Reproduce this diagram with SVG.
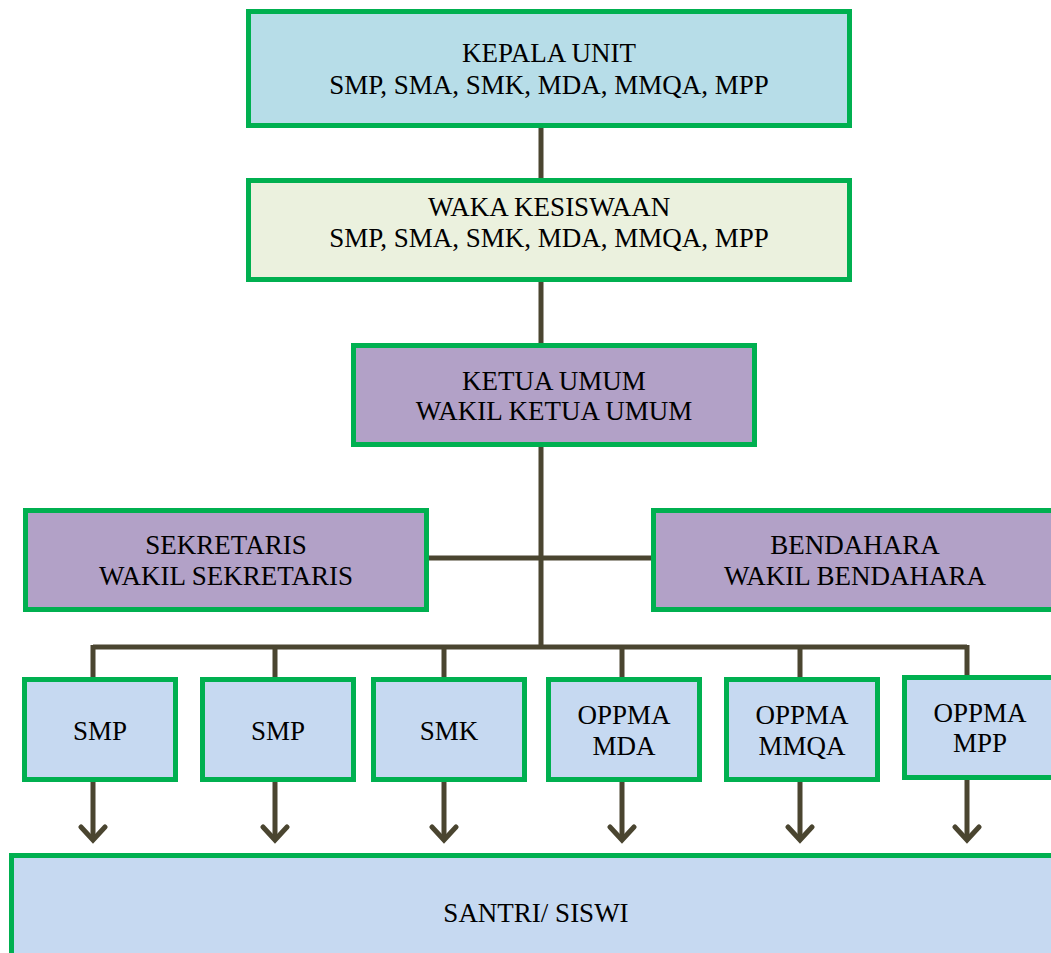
<svg xmlns="http://www.w3.org/2000/svg" width="1051" height="953" viewBox="0 0 1051 953">
<defs>
<style>
.box{stroke:#00B050;stroke-width:5}
.c1{fill:#B7DDE8}
.c2{fill:#EBF1DE}
.c3{fill:#B2A1C7}
.c4{fill:#C6D9F1}
text{font-family:"Liberation Serif","Times New Roman",serif;font-size:27px;fill:#000;text-anchor:middle}
.ln{stroke:#4A4530;stroke-width:5;fill:none}
.ah{stroke:#4A4530;stroke-width:5;fill:none;stroke-linecap:round;stroke-linejoin:miter}
</style>
</defs>
<rect width="1051" height="953" fill="#fff"/>
<g id="connectors">
<path class="ln" d="M541 128V178M541 281V343M541 447V647M429 558H651M93 647H967M93 645V680M275 645V680M444 645V680M622 645V680M800 645V680M967 645V677"/>
<path class="ln" d="M93 782V840M275 782V840M444 782V840M622 782V840M800 782V840M967 780V840"/>
<path class="ah" d="M81 827L93 840L105 827M263 827L275 840L287 827M432 827L444 840L456 827M610 827L622 840L634 827M788 827L800 840L812 827M955 827L967 840L979 827"/>
</g>
<g id="kepala"><rect class="box c1" x="248.5" y="11.5" width="601" height="114"/><text x="549" y="62">KEPALA UNIT</text><text x="549" y="94">SMP, SMA, SMK, MDA, MMQA, MPP</text></g>
<g id="waka"><rect class="box c2" x="248.5" y="180.5" width="601" height="99"/><text x="549" y="216">WAKA KESISWAAN</text><text x="549" y="247">SMP, SMA, SMK, MDA, MMQA, MPP</text></g>
<g id="ketua"><rect class="box c3" x="353.5" y="345.5" width="401" height="99"/><text x="554" y="390">KETUA UMUM</text><text x="554" y="420">WAKIL KETUA UMUM</text></g>
<g id="sekretaris"><rect class="box c3" x="25.5" y="510.5" width="401" height="99"/><text x="226" y="554">SEKRETARIS</text><text x="226" y="585">WAKIL SEKRETARIS</text></g>
<g id="bendahara"><rect class="box c3" x="653.5" y="510.5" width="401" height="99"/><text x="855" y="554">BENDAHARA</text><text x="855" y="585">WAKIL BENDAHARA</text></g>
<g id="smp1"><rect class="box c4" x="24.5" y="679.5" width="151" height="100"/><text x="100" y="740">SMP</text></g>
<g id="smp2"><rect class="box c4" x="202.5" y="679.5" width="151" height="100"/><text x="278" y="740">SMP</text></g>
<g id="smk"><rect class="box c4" x="373.5" y="679.5" width="151" height="100"/><text x="449" y="740">SMK</text></g>
<g id="oppma-mda"><rect class="box c4" x="548.5" y="679.5" width="151" height="100"/><text x="624" y="724">OPPMA</text><text x="624" y="755">MDA</text></g>
<g id="oppma-mmqa"><rect class="box c4" x="726.5" y="679.5" width="151" height="100"/><text x="802" y="724">OPPMA</text><text x="802" y="755">MMQA</text></g>
<g id="oppma-mpp"><rect class="box c4" x="904.5" y="677.5" width="152" height="100"/><text x="980" y="722">OPPMA</text><text x="980" y="752">MPP</text></g>
<g id="santri"><rect class="box c4" x="11.5" y="855.5" width="1050" height="110"/><text x="536" y="922">SANTRI/ SISWI</text></g>
</svg>
